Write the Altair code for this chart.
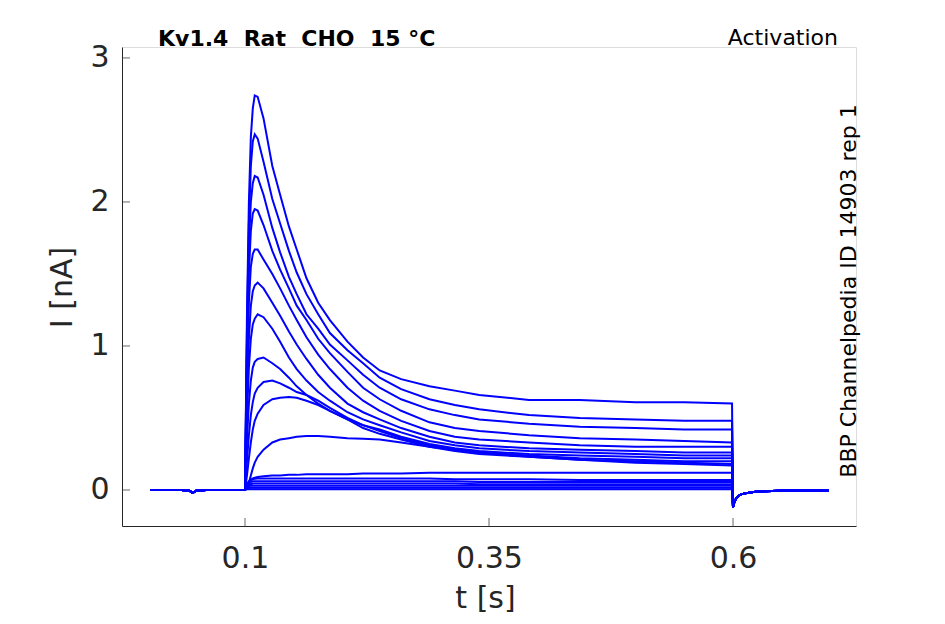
import altair as alt
import pandas as pd

# ---- data ----
PRE_T = [0.003, 0.035, 0.043, 0.0465, 0.050, 0.060, 0.0998]
PRE_I = [0.0, 0.0, -0.005, -0.02, -0.005, 0.0, 0.0]

STEP_T = [0.100, 0.102, 0.104, 0.106, 0.108, 0.110, 0.113, 0.119, 0.128, 0.136,
          0.145, 0.153, 0.163, 0.175, 0.187, 0.205, 0.221, 0.238, 0.260, 0.289,
          0.315, 0.340, 0.391, 0.443, 0.500, 0.550, 0.599]

TR01 = [0.0, 1.20, 2.00, 2.45, 2.65, 2.74, 2.73, 2.58, 2.25, 2.05, 1.83, 1.67, 1.47, 1.30,
        1.18, 1.03, 0.92, 0.83, 0.77, 0.72, 0.69, 0.66, 0.625, 0.625, 0.61, 0.61, 0.60]
TR02 = [0.0, 1.10, 1.85, 2.25, 2.42, 2.47, 2.44, 2.28, 2.02, 1.85, 1.66, 1.51, 1.36, 1.22,
        1.09, 0.97, 0.88, 0.78, 0.70, 0.63, 0.59, 0.56, 0.52, 0.50, 0.49, 0.48, 0.48]
TR03 = [0.0, 1.00, 1.70, 2.00, 2.13, 2.18, 2.17, 2.05, 1.82, 1.65, 1.48, 1.36, 1.22, 1.12,
        1.01, 0.90, 0.80, 0.71, 0.63, 0.56, 0.52, 0.49, 0.46, 0.44, 0.43, 0.42, 0.42]
TR04 = [0.0, 0.90, 1.50, 1.80, 1.92, 1.95, 1.94, 1.84, 1.66, 1.53, 1.40, 1.28, 1.18, 1.05,
        0.95, 0.82, 0.71, 0.63, 0.55, 0.47, 0.43, 0.41, 0.38, 0.36, 0.35, 0.34, 0.33]
TR05 = [0.0, 0.80, 1.30, 1.55, 1.64, 1.67, 1.67, 1.60, 1.50, 1.40, 1.28, 1.18, 1.06, 0.94,
        0.84, 0.71, 0.62, 0.55, 0.48, 0.41, 0.37, 0.35, 0.33, 0.31, 0.30, 0.30, 0.30]
TR06 = [0.0, 0.65, 1.05, 1.28, 1.38, 1.42, 1.44, 1.40, 1.30, 1.21, 1.10, 1.01, 0.91, 0.80,
        0.71, 0.60, 0.54, 0.49, 0.43, 0.37, 0.33, 0.31, 0.29, 0.28, 0.27, 0.26, 0.26]
TR07 = [0.0, 0.50, 0.85, 1.05, 1.15, 1.19, 1.22, 1.20, 1.12, 1.03, 0.92, 0.84, 0.76, 0.68,
        0.62, 0.54, 0.49, 0.45, 0.40, 0.34, 0.31, 0.29, 0.27, 0.26, 0.25, 0.24, 0.24]
TR08 = [0.0, 0.35, 0.60, 0.76, 0.85, 0.89, 0.91, 0.92, 0.88, 0.84, 0.78, 0.72, 0.66, 0.60,
        0.55, 0.49, 0.45, 0.42, 0.37, 0.32, 0.29, 0.27, 0.25, 0.24, 0.23, 0.22, 0.22]
TR09 = [0.0, 0.20, 0.38, 0.52, 0.61, 0.67, 0.71, 0.75, 0.76, 0.74, 0.71, 0.68, 0.66, 0.62,
        0.57, 0.50, 0.45, 0.41, 0.36, 0.31, 0.28, 0.26, 0.24, 0.22, 0.21, 0.20, 0.20]
TR10 = [0.0, 0.10, 0.22, 0.33, 0.42, 0.48, 0.53, 0.59, 0.63, 0.64, 0.645, 0.64, 0.62, 0.59,
        0.55, 0.49, 0.43, 0.39, 0.35, 0.30, 0.27, 0.25, 0.23, 0.21, 0.20, 0.19, 0.18]
TR11 = [0.0, 0.02, 0.05, 0.10, 0.15, 0.19, 0.23, 0.28, 0.33, 0.35, 0.36, 0.37, 0.375, 0.375,
        0.37, 0.36, 0.355, 0.35, 0.33, 0.30, 0.28, 0.26, 0.23, 0.21, 0.19, 0.18, 0.17]
TR12 = [0.0, 0.04, 0.06, 0.07, 0.08, 0.085, 0.09, 0.095, 0.10, 0.10, 0.105, 0.105, 0.11, 0.11,
        0.11, 0.11, 0.115, 0.115, 0.115, 0.12, 0.12, 0.12, 0.12, 0.12, 0.12, 0.12, 0.12]
TR13 = [0.0, 0.04, 0.06, 0.07, 0.075, 0.078, 0.08, 0.08, 0.08, 0.08, 0.08, 0.08, 0.08, 0.08,
        0.08, 0.08, 0.08, 0.08, 0.08, 0.08, 0.075, 0.075, 0.075, 0.07, 0.07, 0.07, 0.07]
TR14 = [0.0, 0.03, 0.045, 0.055, 0.06, 0.06, 0.06, 0.06, 0.06, 0.06, 0.06, 0.06, 0.06, 0.06,
        0.06, 0.06, 0.06, 0.06, 0.06, 0.06, 0.06, 0.055, 0.055, 0.055, 0.055, 0.055, 0.055]
TR15 = [0.0, 0.02, 0.035, 0.04, 0.045, 0.045, 0.045, 0.045, 0.045, 0.045, 0.045, 0.045, 0.045,
        0.045, 0.045, 0.045, 0.045, 0.045, 0.045, 0.045, 0.045, 0.04, 0.04, 0.04, 0.04, 0.04, 0.04]
TR16 = [0.0, 0.015, 0.025, 0.03, 0.03, 0.03, 0.03, 0.03, 0.03, 0.03, 0.03, 0.03, 0.03, 0.03,
        0.03, 0.03, 0.03, 0.03, 0.03, 0.03, 0.03, 0.03, 0.03, 0.03, 0.03, 0.03, 0.03]
TR17 = [0.0, 0.01, 0.015, 0.015, 0.015, 0.015, 0.015, 0.015, 0.015, 0.015, 0.015, 0.015, 0.015,
        0.015, 0.015, 0.015, 0.015, 0.015, 0.015, 0.015, 0.015, 0.015, 0.015, 0.015, 0.015, 0.015, 0.015]
TR18 = [0.0, 0.005, 0.005, 0.005, 0.005, 0.005, 0.005, 0.005, 0.005, 0.005, 0.005, 0.005, 0.005,
        0.005, 0.005, 0.005, 0.005, 0.005, 0.005, 0.005, 0.005, 0.005, 0.005, 0.005, 0.005, 0.005, 0.005]

POST_T = [0.600, 0.6015, 0.604, 0.608, 0.615, 0.625, 0.650, 0.698]
POST_I = [-0.12, -0.08, -0.05, -0.03, -0.02, -0.01, -0.005, -0.005]

X_TICKS = [0.1, 0.35, 0.6]
Y_TICKS = [0, 1, 2, 3]

NB = "\u00a0"
TITLE = f"Kv1.4{NB}{NB}Rat{NB}{NB}CHO{NB}{NB}15{NB}°C"
RIGHT_LABEL = "Activation"
SIDE_LABEL = "BBP Channelpedia ID 14903 rep 1"

TRACES = [TR01, TR02, TR03, TR04, TR05, TR06, TR07, TR08, TR09,
          TR10, TR11, TR12, TR13, TR14, TR15, TR16, TR17, TR18]

rows = []
for k, tr in enumerate(TRACES):
    for t, i in zip(PRE_T, PRE_I):
        rows.append({"trace": k, "t": t, "I": i})
    for t, i in zip(STEP_T, tr):
        rows.append({"trace": k, "t": t, "I": i})
    for t, i in zip(POST_T, POST_I):
        rows.append({"trace": k, "t": t, "I": i})
df = pd.DataFrame(rows)

W, H = 734, 479
AX = "#262626"
FONT = "DejaVu Sans"

xscale = alt.Scale(domain=[-0.026, 0.726], nice=False, zero=False)
yscale = alt.Scale(domain=[-0.25, 3.076], nice=False, zero=False)

lines = alt.Chart(df).mark_line(color="#0000ff", strokeWidth=2, clip=True).encode(
    x=alt.X("t:Q", scale=xscale,
            axis=alt.Axis(values=X_TICKS, title="t [s]", grid=False, tickSize=0,
                          labelFontSize=30, labelPadding=17, labelColor=AX,
                          labelFont=FONT, domainColor=AX, domainWidth=1,
                          titleFontSize=30, titleFont=FONT, titleColor=AX,
                          titleFontWeight="normal", titleX=363, titleY=72,
                          titleBaseline="middle", labelFlush=False,
                          format="~g")),
    y=alt.Y("I:Q", scale=yscale,
            axis=alt.Axis(values=Y_TICKS, title="I [nA]", grid=False, tickSize=0,
                          labelFontSize=30, labelPadding=13, labelColor=AX,
                          labelFont=FONT, domainColor=AX, domainWidth=1,
                          titleFontSize=30, titleFont=FONT, titleColor=AX,
                          titleFontWeight="normal", titleX=-60, titleY=240,
                          titleAngle=-90, titleBaseline="middle", titleAlign="center",
                          labelFlush=False, format="~g")),
    detail="trace:N",
    order="t:Q",
)

xt = alt.Chart(pd.DataFrame({"v": X_TICKS})).mark_tick(
    color=AX, thickness=1, size=8, orient="vertical").encode(
    x=alt.X("v:Q", scale=xscale), y=alt.value(H - 4))
yt = alt.Chart(pd.DataFrame({"v": Y_TICKS})).mark_tick(
    color=AX, thickness=1, size=8, orient="horizontal").encode(
    y=alt.Y("v:Q", scale=yscale), x=alt.value(4))

title = alt.Chart(pd.DataFrame({"s": [TITLE]})).mark_text(
    font=FONT, fontSize=22, fontWeight="bold", color="black", align="left",
    baseline="alphabetic").encode(text="s:N", x=alt.value(36), y=alt.value(-1))
right = alt.Chart(pd.DataFrame({"s": [RIGHT_LABEL]})).mark_text(
    font=FONT, fontSize=22, color="black", align="right",
    baseline="alphabetic").encode(text="s:N", x=alt.value(716), y=alt.value(-2))
side = alt.Chart(pd.DataFrame({"s": [SIDE_LABEL]})).mark_text(
    font=FONT, fontSize=22, color="black", align="center", angle=270,
    baseline="middle").encode(text="s:N", x=alt.value(727), y=alt.value(244))

chart = alt.layer(lines, xt, yt, title, right, side).properties(
    width=W, height=H,
    autosize=alt.AutoSizeParams(type="none"),
    padding={"left": 114, "top": 39, "right": 60, "bottom": 90},
).configure_view(stroke=None).configure(background="white")

chart.save("out.html", embed_options={"renderer": "svg", "actions": False})
